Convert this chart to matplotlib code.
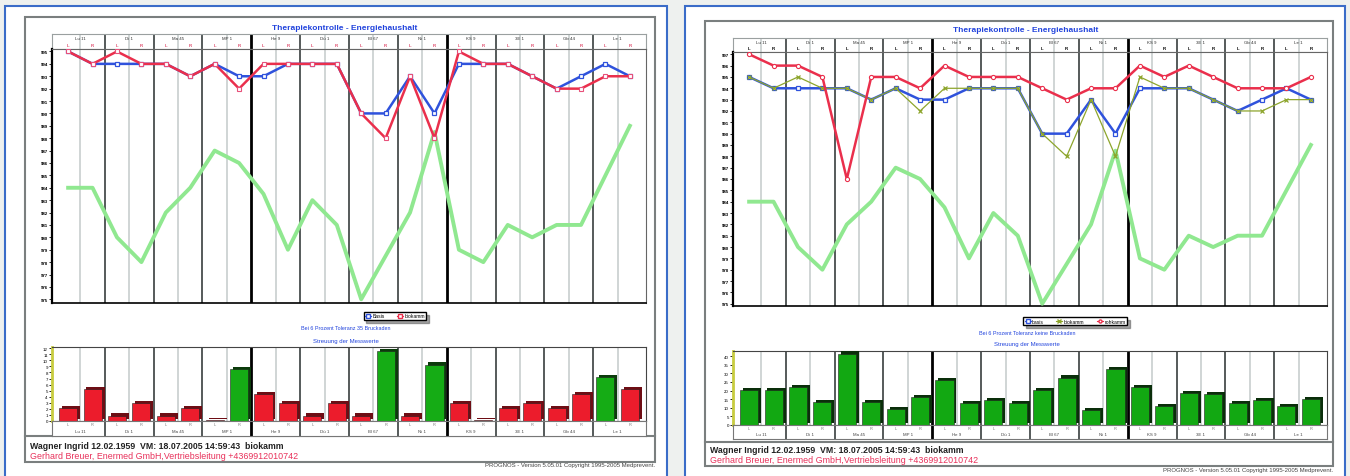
import numpy as np
import matplotlib
matplotlib.use('Agg')
import matplotlib.pyplot as plt
from matplotlib.patches import Rectangle
from matplotlib.lines import Line2D

plt.rcParams['font.family'] = ['Liberation Sans', 'DejaVu Sans']

# meridian points, each measured left and right
days = ['Lu 11', 'Di 1', 'Ma 45', 'MP 1', 'He 9', 'Dü 1',
        'Bl 67', 'Ni 1', 'KS 9', '3E 1', 'Gb 44', 'Le 1']
sides = ['L', 'R']

basis = [995, 994, 994, 994, 994, 993, 994, 993, 993, 994, 994, 994,
         990, 990, 993, 990, 994, 994, 994, 993, 992, 993, 994, 993]
biokamm = [995, 994, 995, 994, 994, 993, 994, 992, 994, 994, 994, 994,
           990, 988, 993, 988, 995, 994, 994, 993, 992, 992, 993, 993]
rohkamm = [997, 996, 996, 995, 986, 995, 995, 994, 996, 995, 995, 995,
           994, 993, 994, 994, 996, 995, 996, 995, 994, 994, 994, 995]
energie = [984, 984, 980, 978, 982, 984, 987, 986, 983.5, 979, 983, 981,
           975, 978.5, 982, 988.5, 979, 978, 981, 980, 981, 981, 985, 989]

streuung_links = [2.1, 5.3, 0.9, 3.0, 0.9, 2.1, 0.2, 8.5, 4.4, 3.0, 0.9, 3.0,
                  0.9, 11.6, 0.9, 9.3, 3.0, 0.2, 2.1, 3.0, 2.1, 4.4, 7.3, 5.3]
streuung_rechts = [20.2, 20.2, 21.9, 13.4, 41.5, 13.5, 9.4, 16.1, 25.9, 12.8, 14.5, 12.8,
                   20.2, 27.5, 8.8, 32.5, 21.9, 11.1, 18.5, 17.9, 12.8, 14.5, 11.1, 15.1]

W, H = 1350, 477
fig = plt.figure(figsize=(13.5, 4.77), dpi=100, facecolor='#eef1ef')

BLUE = '#2f52dc'
RED = '#ea2f4c'
OLIVE = '#8da52c'
LGREEN = '#90e890'


def box(x, y, w, h):
    return [x / W, 1 - (y + h) / H, w / W, h / H]


def rect(x, y, w, h, ec, lw, fc='none', z=-1):
    r = Rectangle((x / W, 1 - (y + h) / H), w / W, h / H, transform=fig.transFigure,
                  fc=fc, ec=ec, lw=lw, zorder=z)
    fig.add_artist(r)


def hline(x0, x1, y, color, lw):
    fig.add_artist(Line2D([x0 / W, x1 / W], [1 - y / H, 1 - y / H], transform=fig.transFigure,
                          color=color, lw=lw, zorder=-0.5))


def text(x, y, s, **kw):
    fig.text(x / W, 1 - y / H, s, **kw)


def col_lines(ax, ymin=0, ymax=1, inner=True):
    for i in range(23):
        b = i + 0.5
        if b in (7.5, 15.5):
            ax.axvline(b, ymin, ymax, color='black', lw=2, zorder=1)
        elif i % 2 == 1:
            ax.axvline(b, ymin, ymax, color='#555a5a', lw=1.4, zorder=1)
        elif inner:
            ax.axvline(b, ymin, ymax, color='#c4caca', lw=1.1, zorder=1)


x = np.arange(24)
XL = (-0.66, 23.66)


def panel(ox, oy, right):
    # frames
    rect(ox, oy, 662 if not right else 660, 480, '#3a6cc8', 1.5, fc='white', z=-2)
    if not right:
        ix, iy, iw, ih, foot = ox + 20, 18, 630, 445, 437
    else:
        ix, iy, iw, ih, foot = ox + 20, 22, 628, 445, 443
    rect(ix, iy, iw, ih, '#7a7f7f', 1.5)
    hline(ix, ix + iw, foot, '#7a7f7f', 1.5)

    ax0 = ox + 47 if not right else ox + 48
    aw = 594
    if not right:
        head_y, plot_y, plot_b, title_y = 35, 50, 304, 28
        bar_y, bar_b, strip_b = 348, 422, 437
    else:
        head_y, plot_y, plot_b, title_y = 39, 53, 307, 31
        bar_y, bar_b, strip_b = 352, 426, 440

    text(ax0 + aw / 2 - 4, title_y, 'Therapiekontrolle - Energiehaushalt', color='#2244dd',
         fontsize=6, fontweight='bold', ha='center', va='center')

    # header with point names
    hd = fig.add_axes(box(ax0, head_y, aw, plot_y - head_y))
    hd.set_xlim(*XL)
    hd.set_ylim(0, 1)
    hd.set_xticks([])
    hd.set_yticks([])
    for s in hd.spines.values():
        s.set_color('#9aa0a0')
    col_lines(hd)
    for d, name in enumerate(days):
        hd.text(2 * d + 0.5, 0.72, name, fontsize=3.2, ha='center', va='center', color='#333')
    for i in x:
        hd.text(i, 0.25, sides[i % 2], fontsize=3.2, ha='center', va='center',
                color='#e05070' if not right else 'black', fontweight='bold')

    # line chart
    ax = fig.add_axes(box(ax0, plot_y, aw, plot_b - plot_y))
    ax.set_xlim(*XL)
    col_lines(ax)
    ax.plot(x, energie, color=LGREEN, lw=2.8, zorder=3)
    ax.plot(x, basis, color=BLUE, lw=1.8, marker='s', ms=3.5, mfc='white', mec=BLUE, mew=0.9, zorder=4)
    if not right:
        ax.set_ylim(974.7, 995.2)
        ax.set_yticks(range(975, 996))
        ax.plot(x, biokamm, color=RED, lw=1.8, marker='s', ms=3, mfc='white', mec='#e8507a',
                mew=0.8, zorder=5)
        handles = [Line2D([], [], color=BLUE, lw=0.8, marker='s', ms=2.2, mfc='white', label='Basis'),
                   Line2D([], [], color=RED, lw=0.8, marker='s', ms=2.2, mfc='white', label='biokamm')]
        leg_xy, ncol = (ox + 390, 317), 2
    else:
        ax.set_ylim(974.8, 997.2)
        ax.set_yticks(range(975, 998))
        ax.plot(x, biokamm, color=OLIVE, lw=0.9, marker='x', ms=3, mew=0.9, zorder=5)
        ax.plot(x, rohkamm, color=RED, lw=1.8, marker='o', ms=3, mfc='white', mec=RED, mew=0.8, zorder=6)
        handles = [Line2D([], [], color=BLUE, lw=0.8, marker='s', ms=2.2, mfc='white', label='basis'),
                   Line2D([], [], color=OLIVE, lw=0.8, marker='x', ms=2.2, label='biokamm'),
                   Line2D([], [], color=RED, lw=0.8, marker='o', ms=2.2, mfc='white', label='rohkamm')]
        leg_xy, ncol = (ox + 390, 322), 3
    ax.set_xticks([])
    ax.tick_params(axis='y', labelsize=3.2, length=2, width=0.6, pad=1)
    for lab in ax.get_yticklabels():
        lab.set_fontweight('bold')
    ax.spines['left'].set_linewidth(1.6)
    ax.spines['bottom'].set_linewidth(1.2)
    for s in ('top', 'right'):
        ax.spines[s].set_color('#666')

    leg = fig.legend(handles=handles, loc='center', bbox_to_anchor=(leg_xy[0] / W, 1 - leg_xy[1] / H),
                     ncol=ncol, fontsize=3.6, frameon=True, fancybox=False, edgecolor='black',
                     handlelength=1.2, borderpad=0.25, columnspacing=2.5, handletextpad=0.3,
                     shadow=True)
    leg.get_frame().set_linewidth(1.0)

    text(ax0 + aw / 2 - 3, 329 if not right else 334,
         'Bei 6 Prozent Toleranz 35 Bruckaden' if not right else 'Bei 6 Prozent Toleranz keine Bruckaden',
         color='#2244dd', fontsize=3.9, ha='center', va='center')
    text(ax0 + aw / 2 - 3, 341 if not right else 345, 'Streuung der Messwerte',
         color='#2244dd', fontsize=4.3, ha='center', va='center')

    # scatter bars with 3d look
    bx = fig.add_axes(box(ax0, bar_y, aw, bar_b - bar_y))
    bx.set_xlim(*XL)
    col_lines(bx)
    if not right:
        vals = streuung_links
        bx.set_ylim(0, 12.2)
        bx.set_yticks(range(0, 13))
        dy = 0.35
        face = ['#15ac15' if v > 6 else '#ec1c2c' for v in vals]
        dark = ['#0b3b0b' if v > 6 else '#6e0d14' for v in vals]
    else:
        vals = streuung_rechts
        bx.set_ylim(0, 43)
        bx.set_yticks(range(0, 45, 5))
        dy = 1.3
        face = ['#12a812'] * 24
        dark = ['#0a2e0a'] * 24
    bx.bar(x + 0.12, vals, width=0.74, bottom=dy, color=dark, zorder=3)
    bx.bar(x, vals, width=0.74, color=face, edgecolor='#202020', lw=0.4, zorder=4)
    bx.set_xticks([])
    bx.tick_params(axis='y', labelsize=3.2, length=2, width=0.6, pad=1)
    bx.spines['left'].set_color('#c8cc40')
    bx.spines['left'].set_linewidth(2)
    for s in ('top', 'right', 'bottom'):
        bx.spines[s].set_color('#444')

    # label strip under the bars
    st = fig.add_axes(box(ax0, bar_b, aw, strip_b - bar_b))
    st.set_xlim(*XL)
    st.set_ylim(0, 1)
    st.set_xticks([])
    st.set_yticks([])
    for s in st.spines.values():
        s.set_color('#777')
    col_lines(st, inner=False)
    for i in x:
        st.text(i, 0.82, sides[i % 2], fontsize=2.8, ha='center', va='center', color='#777')
    for d, name in enumerate(days):
        st.text(2 * d + 0.5, 0.35, name, fontsize=3.2, ha='center', va='center', color='#444')

    # footer
    fy1 = 447 if not right else 451
    text(ix + 5, fy1, 'Wagner Ingrid 12.02.1959  VM: 18.07.2005 14:59:43  biokamm',
         fontsize=6.3, fontweight='bold', color='#222', va='center')
    text(ix + 5, fy1 + 10, 'Gerhard Breuer, Enermed GmbH,Vertriebsleitung +4369912010742',
         fontsize=6.4, color='#e8305a', va='center')
    text(ix + iw, 466 if not right else 471,
         'PROGNOS - Version 5.05.01 Copyright 1995-2005 Medprevent.',
         fontsize=4.3, color='#444', ha='right', va='center')


panel(5, 7, False)
panel(685, 7, True)

fig.savefig('out.png', dpi=100, facecolor=fig.get_facecolor())
